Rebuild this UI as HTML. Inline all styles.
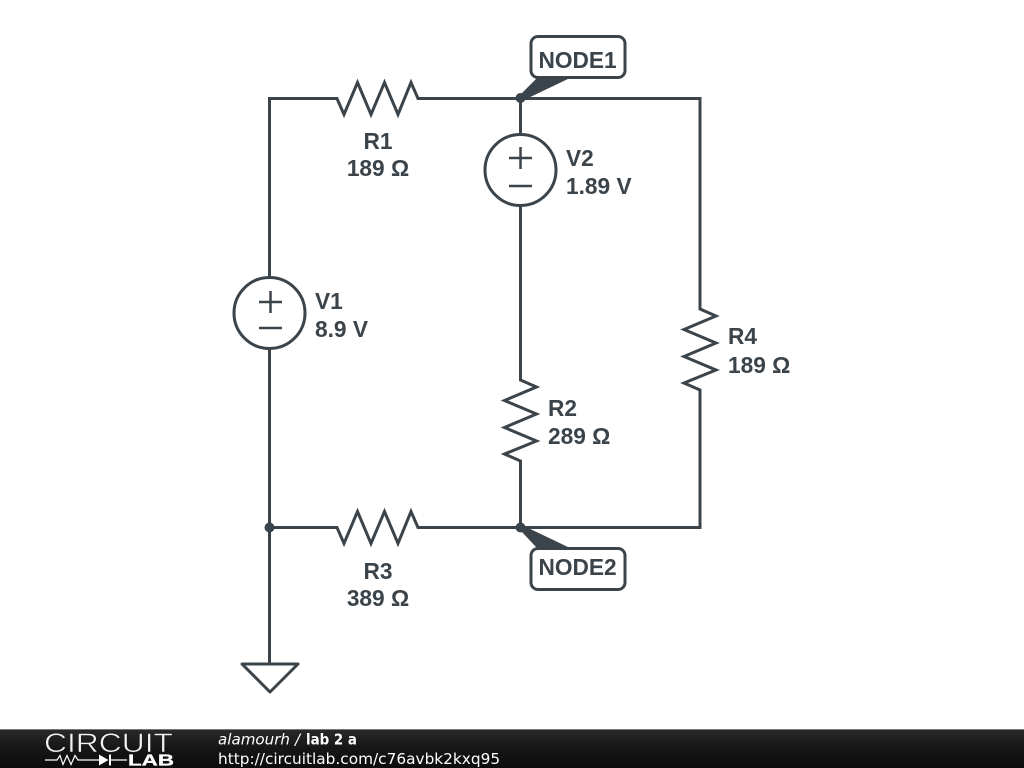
<!DOCTYPE html>
<html><head><meta charset="utf-8"><style>
html,body{margin:0;padding:0;background:#fff;width:1024px;height:768px;overflow:hidden}
svg{display:block;position:absolute;left:0;top:0}
</style></head><body>
<svg width="1024" height="768" viewBox="0 0 1024 768" xmlns="http://www.w3.org/2000/svg">
<defs><linearGradient id="g" x1="0" y1="0" x2="0" y2="1"><stop offset="0" stop-color="#2a2a2a"/><stop offset="0.5" stop-color="#161616"/><stop offset="1" stop-color="#0c0c0c"/></linearGradient></defs>
<g fill="none" stroke="#3b444b" stroke-width="3" stroke-linejoin="miter">
<path d="M269.500 277V98.500H337L344 114.500L357.500 82.500L371 114.500L384.500 82.500L398 114.500L411 82.500L418 98.500H700V309L716 316L684 329.500L716 343L684 356.500L716 370L684 383L700 390V527.500H520.500"/>
<path d="M520.500 98.500V134M520.500 206V380L536.500 387L504.500 400.500L536.500 414L504.500 427.500L536.500 441L504.500 454L520.500 461V527.500"/>
<path d="M269.500 349V664M269.500 527.500H337L344 543.500L357.500 511.500L371 543.500L384.500 511.500L398 543.500L411 511.500L418 527.500H520.500"/>
<circle cx="269.500" cy="313" r="35.500"/>
<circle cx="520.500" cy="170" r="35.500"/>
<path d="M259 302H282M270.500 291V313M259 328H282M509 158H532M520.500 147V169M509 186H532" stroke-width="2.500"/>
<path d="M242 664H298L270 692Z" stroke-linejoin="round"/>
</g>
<g fill="#3b444b">
<circle cx="520.500" cy="98" r="5"/><circle cx="520.500" cy="527.500" r="5"/><circle cx="269.500" cy="527.500" r="5"/>
<path d="M520 95L537 78H570L524 100Z"/>
<path d="M520 530L537 548H570L524 526Z"/>
</g>
<rect x="531" y="36.500" width="94" height="41" rx="7" fill="#fff" stroke="#3b444b" stroke-width="3"/>
<rect x="531" y="548.500" width="94" height="41" rx="7" fill="#fff" stroke="#3b444b" stroke-width="3"/>
<g font-family="'Liberation Sans',sans-serif" font-weight="bold" font-size="22.700" fill="#3b444b">
<text x="538.500" y="68">NODE1</text>
<text x="538.500" y="575">NODE2</text>
<text x="378" y="149" text-anchor="middle">R1</text>
<text x="378" y="176" text-anchor="middle">189 Ω</text>
<text x="378" y="579" text-anchor="middle">R3</text>
<text x="378" y="606" text-anchor="middle">389 Ω</text>
<text x="566" y="166">V2</text>
<text x="566" y="194">1.89 V</text>
<text x="315" y="309">V1</text>
<text x="315" y="337">8.9 V</text>
<text x="548" y="416">R2</text>
<text x="548" y="444">289 Ω</text>
<text x="728" y="344">R4</text>
<text x="728" y="373">189 Ω</text>
</g>
<rect x="0" y="729" width="1024" height="39" fill="url(#g)"/>
<rect x="0" y="729" width="1024" height="1" fill="#777"/>
<text x="44" y="752" font-family="'Liberation Sans',sans-serif" font-size="27" fill="#fff" fill-opacity=".95" stroke="#1a1a1a" stroke-width=".6" textLength="129" lengthAdjust="spacingAndGlyphs">CIRCUIT</text>
<text x="128" y="765.500" font-family="'Liberation Sans',sans-serif" font-weight="bold" font-size="16" fill="#fff" stroke="#fff" stroke-width=".3" textLength="46" lengthAdjust="spacingAndGlyphs">LAB</text>
<path d="M45 760H57L60 755.500L63 764.500L67 755.500L71 764.500L75 755.500L78 760H99M110 760H127" fill="none" stroke="#fff" stroke-width="1.200"/>
<path d="M99 754.500V765.500L108.500 760Z M109 754.500H111V765.500H109Z" fill="#fff"/>
<g font-family="'DejaVu Sans',sans-serif" font-size="15" fill="#fff">
<text x="218" y="744.500" font-style="oblique" textLength="72" lengthAdjust="spacingAndGlyphs">alamourh</text>
<text x="295" y="744.500" font-style="oblique">/</text>
<text x="306" y="744.500" font-weight="bold" textLength="51" lengthAdjust="spacingAndGlyphs">lab 2 a</text>
<text x="218" y="764" font-size="15.330">http://circuitlab.com/c76avbk2kxq95</text>
</g>
</svg>
</body></html>
